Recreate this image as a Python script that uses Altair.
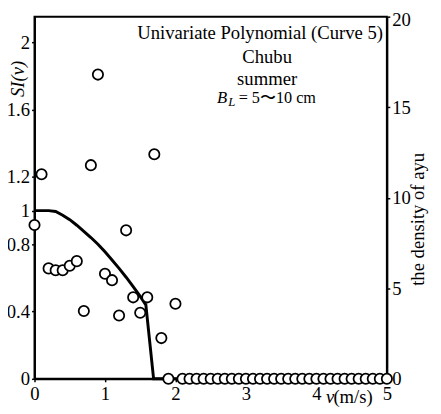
import altair as alt
import pandas as pd

# observed density of ayu (right axis)
v_obs = [0.0, 0.1, 0.2, 0.3, 0.4, 0.5, 0.6, 0.7, 0.8, 0.9,
         1.0, 1.1, 1.2, 1.3, 1.4, 1.5, 1.6, 1.7, 1.8, 1.9,
         2.0, 2.1, 2.2, 2.3, 2.4, 2.5, 2.6, 2.7, 2.8, 2.9,
         3.0, 3.1, 3.2, 3.3, 3.4, 3.5, 3.6, 3.7, 3.8, 3.9,
         4.0, 4.1, 4.2, 4.3, 4.4, 4.5, 4.6, 4.7, 4.8, 4.9, 5.0]
density = [8.5, 11.3, 6.1, 6.0, 6.0, 6.25, 6.5, 3.75, 11.8, 16.8,
           5.8, 5.45, 3.5, 8.2, 4.5, 3.65, 4.5, 12.4, 2.25, 0.0,
           4.15, 0, 0, 0, 0, 0, 0, 0, 0, 0,
           0, 0, 0, 0, 0, 0, 0, 0, 0, 0,
           0, 0, 0, 0, 0, 0, 0, 0, 0, 0, 0]

# univariate polynomial SI curve (left axis)
v_curve = [0.0, 0.1, 0.2, 0.3, 0.4, 0.5, 0.6, 0.7, 0.8, 0.9,
           1.0, 1.1, 1.2, 1.3, 1.4, 1.5, 1.58, 1.69, 5.0]
si_curve = [1.0, 1.0, 1.0, 0.995, 0.973, 0.946, 0.913, 0.877, 0.84, 0.80,
            0.755, 0.707, 0.657, 0.604, 0.548, 0.49, 0.44, 0.0, 0.0]

x_ticks = [0, 1, 2, 3, 4, 5]
si_ticks = [0, 0.4, 0.8, 1, 1.2, 1.6, 2]
dens_ticks = [0, 5, 10, 15, 20]

FONT = "Liberation Serif"
FS = 19
W, H = 359, 369

df_obs = pd.DataFrame({"v": v_obs, "density": density})
df_curve = pd.DataFrame({"v": v_curve, "si": si_curve})

xscale = alt.Scale(domain=[0, 5], nice=False)
xaxis = alt.Axis(values=x_ticks, format="d", title=None, labelPadding=3)

line = alt.Chart(df_curve).mark_line(color="black", strokeWidth=3).encode(
    x=alt.X("v:Q", scale=xscale, axis=xaxis),
    y=alt.Y("si:Q", scale=alt.Scale(domain=[0, 2.153], nice=False, zero=True),
            axis=alt.Axis(orient="left", values=si_ticks, format="~g", title="SI(v)",
                          titleFontStyle="italic", titleFontWeight="normal",
                          titleFont=FONT, titleFontSize=FS, titleAngle=270,
                          titleX=-17, titleY=63, titleAlign="center",
                          titleBaseline="middle", labelPadding=2)),
)

points = alt.Chart(df_obs).mark_point(
    shape="circle", fill="white", fillOpacity=1, opacity=1, stroke="black",
    strokeWidth=1.8, size=110
).encode(
    x=alt.X("v:Q", scale=xscale, axis=xaxis),
    y=alt.Y("density:Q", scale=alt.Scale(domain=[0, 20], nice=False),
            axis=alt.Axis(orient="right", values=dens_ticks, format="d",
                          labelExpr="datum.value < 10 ? '\u2007' + datum.label : datum.label",
                          labelOffset={"condition": {"test": "datum.value == 20", "value": 3}, "value": 0},
                          title="the density of ayu", titleFont=FONT, titleFontSize=FS,
                          titleFontWeight="normal", titleAngle=270, titleX=31, titleY=206,
                          titleAlign="center", titleBaseline="middle",
                          labelAlign="left", labelPadding=2)),
)

def txt(s, x, y, size=FS, align="center", style="normal"):
    return alt.Chart(pd.DataFrame({"t": [s]})).mark_text(
        font=FONT, fontSize=size, align=align, baseline="middle",
        fontStyle=style, color="black"
    ).encode(text="t:N", x=alt.value(x), y=alt.value(y))

texts = [
    txt("Univariate Polynomial (Curve 5)", 355, 16.5, align="right"),
    txt("Chubu", 237, 41.5),
    txt("summer", 237, 63.5),
    txt("B", 186, 83, size=17, align="left", style="italic"),
    txt("L", 197.5, 87, size=13, align="left", style="italic"),
    txt("= 5〜10 cm", 208, 83, size=16.5, align="left"),
    txt("v", 297, 388, align="left", style="italic"),
    txt("(m/s)", 304.5, 388, align="left"),
]

chart = alt.layer(line, points, *texts).resolve_scale(y="independent").properties(
    width=W, height=H,
    autosize=alt.AutoSizeParams(type="none"),
    padding={"left": 27, "top": 5, "right": 47, "bottom": 32},
).configure_view(stroke="black", strokeWidth=2).configure_axis(
    grid=False, domainColor="black", domainWidth=2, tickColor="black",
    tickWidth=1.5, tickSize=3, labelFont=FONT, labelFontSize=FS,
    labelColor="black", titleColor="black", labelFlush=False, labelOverlap=False,
)

chart.save("out.html", embed_options={"renderer": "svg", "actions": False})
